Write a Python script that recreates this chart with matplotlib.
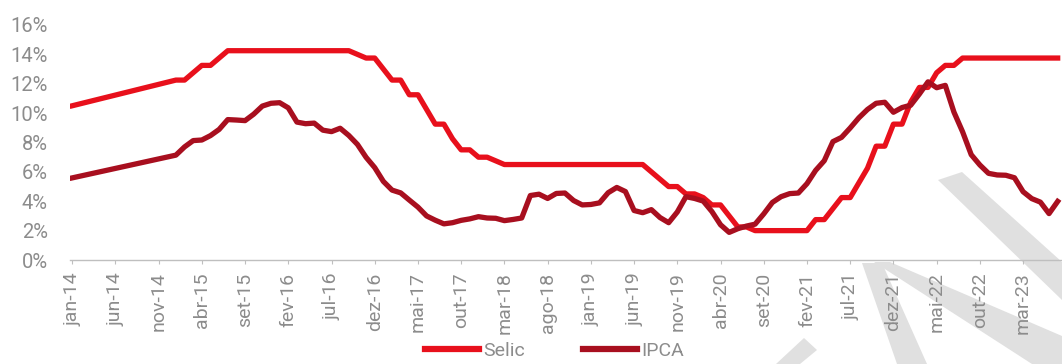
import matplotlib
matplotlib.use("Agg")
import matplotlib.pyplot as plt
from matplotlib import font_manager
from matplotlib.patches import Polygon

# fonte estreita se houver, senao Roboto
nomes = {f.name for f in font_manager.fontManager.ttflist}
fonte = 'Liberation Sans Narrow' if 'Liberation Sans Narrow' in nomes else 'Roboto'
plt.rcParams['font.family'] = [fonte, 'DejaVu Sans']

# meses (deslocamento a partir de jan-14): jan-14 e depois jan-15 ... jul-23
meses = [0] + list(range(12, 115))

selic = [10.50,
         12.25, 12.25, 12.75, 13.25, 13.25, 13.75, 14.25, 14.25, 14.25, 14.25, 14.25, 14.25,
         14.25, 14.25, 14.25, 14.25, 14.25, 14.25, 14.25, 14.25, 14.25, 14.00, 13.75, 13.75,
         13.00, 12.25, 12.25, 11.25, 11.25, 10.25, 9.25, 9.25, 8.25, 7.50, 7.50, 7.00,
         7.00, 6.75, 6.50, 6.50, 6.50, 6.50, 6.50, 6.50, 6.50, 6.50, 6.50, 6.50,
         6.50, 6.50, 6.50, 6.50, 6.50, 6.50, 6.50, 6.00, 5.50, 5.00, 5.00, 4.50,
         4.50, 4.25, 3.75, 3.75, 3.00, 2.25, 2.25, 2.00, 2.00, 2.00, 2.00, 2.00,
         2.00, 2.00, 2.75, 2.75, 3.50, 4.25, 4.25, 5.25, 6.25, 7.75, 7.75, 9.25,
         9.25, 10.75, 11.75, 11.75, 12.75, 13.25, 13.25, 13.75, 13.75, 13.75, 13.75, 13.75,
         13.75, 13.75, 13.75, 13.75, 13.75, 13.75, 13.75]

ipca = [5.59,
        7.14, 7.70, 8.13, 8.17, 8.47, 8.89, 9.56, 9.53, 9.49, 9.93, 10.48, 10.67,
        10.71, 10.36, 9.39, 9.28, 9.32, 8.84, 8.74, 8.97, 8.48, 7.87, 6.99, 6.29,
        5.35, 4.76, 4.57, 4.08, 3.60, 3.00, 2.71, 2.46, 2.54, 2.70, 2.80, 2.95,
        2.86, 2.84, 2.68, 2.76, 2.86, 4.39, 4.48, 4.19, 4.53, 4.56, 4.05, 3.75,
        3.78, 3.89, 4.58, 4.94, 4.66, 3.37, 3.22, 3.43, 2.89, 2.54, 3.27, 4.31,
        4.19, 4.01, 3.30, 2.40, 1.88, 2.13, 2.31, 2.44, 3.14, 3.92, 4.31, 4.52,
        4.56, 5.20, 6.10, 6.76, 8.06, 8.35, 8.99, 9.68, 10.25, 10.67, 10.74, 10.06,
        10.38, 10.54, 11.30, 12.13, 11.73, 11.89, 10.07, 8.73, 7.17, 6.47, 5.90, 5.79,
        5.77, 5.60, 4.65, 4.18, 3.94, 3.16, 3.99]

nomes_mes = ['jan', 'fev', 'mar', 'abr', 'mai', 'jun', 'jul', 'ago', 'set', 'out', 'nov', 'dez']
ticks = list(range(0, 111, 5))
tick_labels = ['%s-%d' % (nomes_mes[m % 12], 14 + m // 12) for m in ticks]

fig = plt.figure(figsize=(10.62, 3.64), dpi=100)
W, H = 1062, 364

# marca d'agua cinza (coordenadas em pixels)
marcas = [
    [(776, 364), (804, 338), (817, 350), (800, 364)],
    [(862, 263), (882, 263), (927, 364), (897, 364)],
    [(874, 262), (890, 262), (1062, 336), (1062, 364), (1032, 364)],
    [(938, 180), (962, 172), (1062, 262), (1062, 300)],
]
for pts in marcas:
    fig.patches.append(Polygon([(x / W, 1 - y / H) for x, y in pts], closed=True,
                               transform=fig.transFigure, facecolor='#e0e0e0',
                               edgecolor='none', zorder=0))

ax = fig.add_axes([70 / W, 1 - 260 / H, 1 - 70 / W, (260 - 25) / H])
ax.set_zorder(2)
ax.patch.set_alpha(0)

ax.plot(meses, selic, color='#e8101c', lw=3.8, label='Selic', solid_joinstyle='round')
ax.plot(meses, ipca, color='#a80f1f', lw=3.8, label='IPCA', solid_joinstyle='round')

ax.set_xlim(-0.25, 114.5)
ax.set_ylim(0, 16)
ax.set_yticks(range(0, 17, 2))
ax.set_yticklabels(['%d%%' % v for v in range(0, 17, 2)])
ax.set_xticks(ticks)
ax.set_xticklabels(tick_labels, rotation=90)

for s in ['top', 'right', 'left']:
    ax.spines[s].set_visible(False)
ax.spines['bottom'].set_color('#bfbfbf')
ax.spines['bottom'].set_linewidth(1)
ax.tick_params(axis='y', length=0, pad=16, labelsize=14.5, labelcolor='#8c8c8c')
ax.tick_params(axis='x', length=3, color='#bfbfbf', pad=6, labelsize=14, labelcolor='#8c8c8c')

leg = fig.legend(loc='center', bbox_to_anchor=(0.522, 0.035), ncol=2, frameon=False,
                 fontsize=14, handlelength=2.8, handletextpad=0.2, columnspacing=3.0)
leg.set_zorder(3)
for t in leg.get_texts():
    t.set_color('#8c8c8c')
for l in leg.get_lines():
    l.set_linewidth(4.5)

fig.savefig('out.png', dpi=100)
